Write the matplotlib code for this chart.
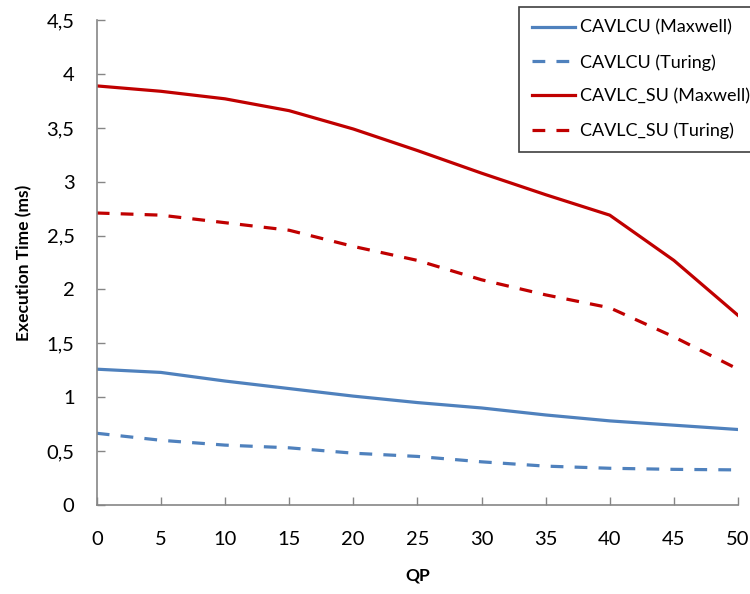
import numpy as np
import matplotlib.pyplot as plt
from matplotlib.ticker import FuncFormatter

# -------------------- datos --------------------
qp = [0, 5, 10, 15, 20, 25, 30, 35, 40, 45, 50]
cavlcu_maxwell = [1.26, 1.23, 1.15, 1.08, 1.01, 0.95, 0.90, 0.835, 0.78, 0.74, 0.70]
cavlcu_turing = [0.665, 0.60, 0.555, 0.53, 0.48, 0.45, 0.40, 0.36, 0.34, 0.33, 0.325]
cavlcsu_maxwell = [3.89, 3.84, 3.77, 3.66, 3.49, 3.29, 3.08, 2.88, 2.69, 2.27, 1.76]
cavlcsu_turing = [2.71, 2.69, 2.62, 2.55, 2.40, 2.27, 2.09, 1.95, 1.83, 1.56, 1.26]

BLUE = "#4F81BD"
RED = "#C00000"
DASH = (0, (4, 3.5))

plt.rcParams["font.family"] = ["Lato", "DejaVu Sans"]
plt.rcParams["font.size"] = 13

fig = plt.figure(figsize=(7.5, 5.94), dpi=100)
ax = fig.add_axes([0.129, 0.150, 0.855, 0.816])

ax.plot(qp, cavlcu_maxwell, color=BLUE, lw=2.3, label="CAVLCU (Maxwell)")
ax.plot(qp, cavlcu_turing, color=BLUE, lw=2.3, ls=DASH, label="CAVLCU (Turing)")
ax.plot(qp, cavlcsu_maxwell, color=RED, lw=2.3, label="CAVLC_SU (Maxwell)")
ax.plot(qp, cavlcsu_turing, color=RED, lw=2.3, ls=DASH, label="CAVLC_SU (Turing)")

ax.set_xlim(0, 50)
ax.set_ylim(0, 4.5)
ax.set_xticks(qp)
ax.set_yticks(np.arange(0, 4.51, 0.5))
ax.yaxis.set_major_formatter(FuncFormatter(lambda v, p: f"{v:g}".replace(".", ",")))

for s in ("top", "right"):
    ax.spines[s].set_visible(False)
for s in ("left", "bottom"):
    ax.spines[s].set_color("#868686")
    ax.spines[s].set_linewidth(1.2)
ax.tick_params(direction="in", length=6, width=1, color="#868686", labelsize=14.5, pad=16)
ax.tick_params(axis="x", pad=19)

ax.set_xlabel("QP", fontweight="bold", fontsize=12.5, labelpad=14)
ax.set_ylabel("Execution Time (ms)", fontweight="bold", fontsize=12.5, labelpad=10)

leg = ax.legend(loc="upper left", bbox_to_anchor=(0.692, 0.988), bbox_transform=fig.transFigure,
                fancybox=False, edgecolor="#404040", framealpha=1, handlelength=2.4,
                labelspacing=1.0, borderpad=0.7, borderaxespad=0, handletextpad=0.3, fontsize=13)
leg.get_frame().set_linewidth(1.2)

fig.savefig("out.png", dpi=100)
